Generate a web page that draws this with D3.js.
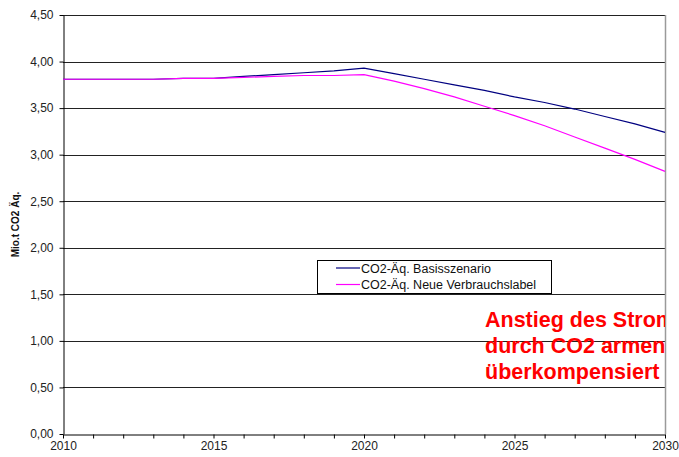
<!DOCTYPE html>
<html>
<head>
<meta charset="utf-8">
<script src="https://cdn.jsdelivr.net/npm/d3@7"></script>
<style>
  body { margin: 0; background: #fff; }
  svg { display: block; font-family: "Liberation Sans", Arial, sans-serif; }
</style>
</head>
<body>
<div id="chart"></div>
<script>
// data
var years = [2010, 2011, 2012, 2013, 2014, 2015, 2016, 2017, 2018, 2019, 2020,
             2021, 2022, 2023, 2024, 2025, 2026, 2027, 2028, 2029, 2030];
var basis = [3.81, 3.81, 3.81, 3.81, 3.82, 3.82, 3.84, 3.86, 3.88, 3.90, 3.93,
             3.87, 3.81, 3.75, 3.69, 3.62, 3.56, 3.49, 3.41, 3.33, 3.24];
var label = [3.81, 3.81, 3.81, 3.81, 3.82, 3.82, 3.83, 3.84, 3.85, 3.85, 3.86,
             3.79, 3.71, 3.62, 3.52, 3.42, 3.31, 3.19, 3.07, 2.95, 2.82];
var seriesNames = ["CO2-Äq. Basisszenario", "CO2-Äq. Neue Verbrauchslabel"];
var seriesColors = ["#000080", "#ff00ff"];
var yTicks = [0, 0.5, 1, 1.5, 2, 2.5, 3, 3.5, 4, 4.5];
var xLabelYears = [2010, 2015, 2020, 2025, 2030];
var yTitle = "Mio.t CO2 Äq.";
var note = ["Anstieg des Strom", "durch CO2 armen", "überkompensiert"];

var W = 679, H = 457;
var margin = { left: 63, top: 15, right: 14, bottom: 23 };
var width = W - margin.left - margin.right;
var height = H - margin.top - margin.bottom;

var de = d3.formatLocale({ decimal: ",", thousands: ".", grouping: [3], currency: ["", " €"] });
var fmt = de.format(".2f");

var svg = d3.select("#chart")
  .append("svg")
  .attr("width", W)
  .attr("height", H)
  .append("g")
  .attr("transform", "translate(" + margin.left + "," + margin.top + ")");

var x = d3.scaleLinear().domain([2010, 2030]).range([0, width]);
var y = d3.scaleLinear().domain([0, 4.5]).range([height, 0]);

// gridlines
svg.append("g")
  .selectAll("line")
  .data(yTicks.filter(d => d > 0))
  .enter()
  .append("line")
  .attr("x1", 0)
  .attr("x2", width)
  .attr("y1", d => Math.round(y(d)) + 0.5)
  .attr("y2", d => Math.round(y(d)) + 0.5)
  .style("stroke", "#222")
  .style("stroke-width", 1);

// right border of plot area
svg.append("line")
  .attr("x1", width + 0.5).attr("x2", width + 0.5)
  .attr("y1", 0).attr("y2", height)
  .style("stroke", "#9a9a9a")
  .style("stroke-width", 1.5);

// y axis
var yAxis = svg.append("g")
  .attr("transform", "translate(0.5,0)")
  .call(d3.axisLeft(y).tickValues(yTicks).tickFormat(fmt).tickSize(4).tickSizeOuter(0));
yAxis.select(".domain").style("stroke", "#000");
yAxis.selectAll(".tick line").style("stroke", "#000");
yAxis.selectAll(".tick text")
  .attr("x", -10)
  .style("font-size", "12px")
  .style("fill", "#222")
  .style("font-family", "Liberation Sans, Arial, sans-serif");

// x axis
var xAxis = svg.append("g")
  .attr("transform", "translate(0," + (Math.round(height) + 0.5) + ")")
  .call(d3.axisBottom(x).tickValues(years).tickSize(4).tickSizeOuter(0)
    .tickFormat(d => xLabelYears.indexOf(d) >= 0 ? d : ""));
xAxis.select(".domain").style("stroke", "#000");
xAxis.selectAll(".tick line").style("stroke", "#000");
xAxis.selectAll(".tick text")
  .attr("y", 7)
  .style("font-size", "12px")
  .style("fill", "#222")
  .style("font-family", "Liberation Sans, Arial, sans-serif");

// y title
svg.append("text")
  .attr("transform", "rotate(-90)")
  .attr("x", -(height / 2))
  .attr("y", -44)
  .attr("text-anchor", "middle")
  .style("font-size", "10px")
  .style("font-weight", "bold")
  .style("fill", "#111")
  .text(yTitle);

// lines
var line = d3.line()
  .x(d => x(d.year))
  .y(d => y(d.v));

[basis, label].forEach(function (vals, i) {
  var pts = years.map((yr, j) => ({ year: yr, v: vals[j] }));
  svg.append("path")
    .datum(pts)
    .attr("d", line)
    .style("fill", "none")
    .style("stroke", seriesColors[i])
    .style("stroke-width", 1.2);
});

// legend
var legend = svg.append("g").attr("transform", "translate(" + (317 - margin.left) + "," + (260 - margin.top) + ")");
legend.append("rect")
  .attr("x", 0.5).attr("y", 0.5)
  .attr("width", 234).attr("height", 33)
  .style("fill", "#fff")
  .style("stroke", "#000")
  .style("stroke-width", 1);
seriesNames.forEach(function (name, i) {
  var cy = 8 + i * 16.5;
  legend.append("line")
    .attr("x1", 19).attr("x2", 43)
    .attr("y1", cy).attr("y2", cy)
    .style("stroke", seriesColors[i])
    .style("stroke-width", 1.2);
  legend.append("text")
    .attr("x", 44)
    .attr("y", cy + 4.5)
    .style("font-size", "12.5px")
    .style("fill", "#111")
    .text(name);
});

// red note, clipped to plot area like the original
svg.append("clipPath")
  .attr("id", "plotclip")
  .append("rect")
  .attr("x", 0).attr("y", 0)
  .attr("width", width).attr("height", height);

svg.append("g")
  .attr("clip-path", "url(#plotclip)")
  .selectAll("text")
  .data(note)
  .enter()
  .append("text")
  .attr("x", 485 - margin.left)
  .attr("y", (d, i) => 327 - margin.top + i * 26)
  .style("font-size", "21.5px")
  .style("font-weight", "bold")
  .style("fill", "#ff0000")
  .text(d => d);
</script>
</body>
</html>
